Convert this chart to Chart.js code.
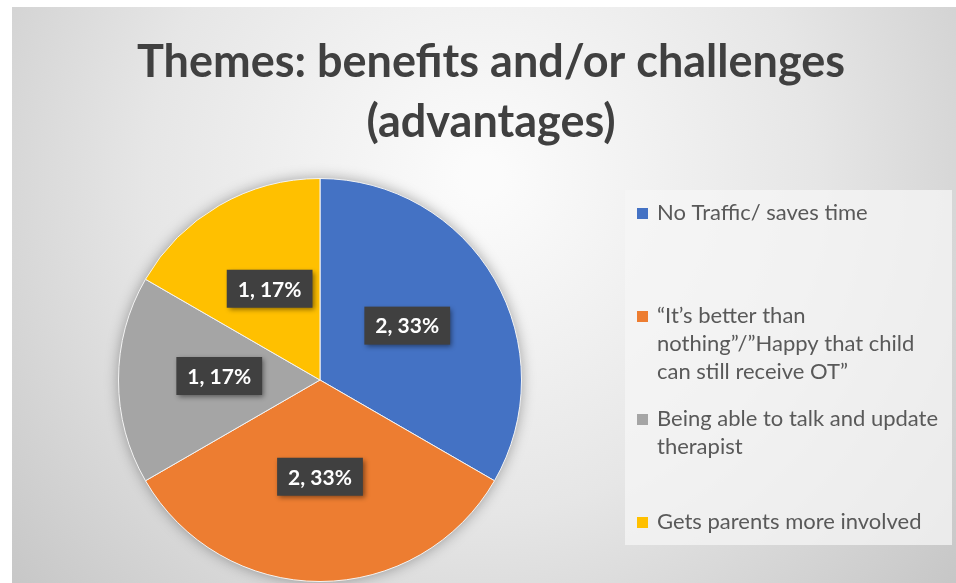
<!DOCTYPE html>
<html>
<head>
<meta charset="utf-8">
<script src="https://cdn.jsdelivr.net/npm/chart.js@4.4.0/dist/chart.umd.min.js"></script>
<style>
  html, body { margin: 0; padding: 0; background: #fff; }
  #wrap { position: absolute; left: 12px; top: 7px; width: 944px; height: 576px; }
</style>
</head>
<body>
<div id="wrap"><canvas id="themes-chart"></canvas></div>
<script>
// ==================== DATA ====================
const titleLines = ['Themes: benefits and/or challenges', '(advantages)'];
const categories = [
  ['No Traffic/ saves time'],
  ['\u201CIt\u2019s better than', 'nothing\u201D/\u201DHappy that child', 'can still receive OT\u201D'],
  ['Being able to talk and update', 'therapist'],
  ['Gets parents more involved']
];
const counts = [2, 2, 1, 1];
const sliceColors = ['#4472C4', '#ED7D31', '#A5A5A5', '#FFC000'];

const FONT = 'Lato, "Open Sans", sans-serif';

// ==================== PLUGINS ====================
// grey radial backdrop behind everything
const backdrop = {
  id: 'backdrop',
  beforeDraw(chart) {
    const { ctx, width, height } = chart;
    const g = ctx.createRadialGradient(470, 170, 20, 470, 170, 720);
    g.addColorStop(0, '#fbfbfb');
    g.addColorStop(0.45, '#e6e6e6');
    g.addColorStop(1, '#bcbcbc');
    ctx.save();
    ctx.fillStyle = g;
    ctx.fillRect(0, 0, width, height);
    ctx.restore();
  }
};

// two-line heading centred across the whole canvas
const heading = {
  id: 'heading',
  beforeDatasetsDraw(chart) {
    const { ctx, width } = chart;
    ctx.save();
    ctx.font = `bold 45px ${FONT}`;
    ctx.fillStyle = '#404040';
    ctx.textAlign = 'center';
    ctx.textBaseline = 'middle';
    titleLines.forEach((line, i) => ctx.fillText(line, width / 2 + 7, 55 + i * 60));
    ctx.restore();
  }
};

// soft halo under the pie
const pieShadow = {
  id: 'pieShadow',
  beforeDatasetsDraw(chart) {
    const arc = chart.getDatasetMeta(0).data[0];
    if (!arc) return;
    const { x, y, outerRadius } = arc.getProps(['x', 'y', 'outerRadius'], true);
    const { ctx } = chart;
    ctx.save();
    ctx.shadowColor = 'rgba(0,0,0,0.35)';
    ctx.shadowBlur = 14;
    ctx.fillStyle = '#cccccc';
    ctx.beginPath();
    ctx.arc(x, y, outerRadius, 0, Math.PI * 2);
    ctx.fill();
    ctx.restore();
  }
};

// dark callout boxes: "value, pct%"
const sliceLabels = {
  id: 'sliceLabels',
  afterDatasetsDraw(chart) {
    const { ctx } = chart;
    const data = chart.data.datasets[0].data;
    const total = data.reduce((s, v) => s + v, 0);
    ctx.save();
    ctx.font = `bold 21px ${FONT}`;
    ctx.textAlign = 'center';
    ctx.textBaseline = 'middle';
    chart.getDatasetMeta(0).data.forEach((arc, i) => {
      const pos = arc.tooltipPosition();
      const text = `${data[i]}, ${Math.round(data[i] / total * 100)}%`;
      const w = ctx.measureText(text).width + 22;
      const h = 38;
      ctx.shadowColor = 'rgba(0,0,0,0.45)';
      ctx.shadowBlur = 5;
      ctx.shadowOffsetX = 2;
      ctx.shadowOffsetY = 2;
      ctx.fillStyle = '#404040';
      ctx.fillRect(pos.x - w / 2, pos.y - h / 2 - 4, w, h);
      ctx.shadowColor = 'transparent';
      ctx.fillStyle = '#ffffff';
      ctx.fillText(text, pos.x, pos.y - 3);
    });
    ctx.restore();
  }
};

// legend panel on the right, entries spread down the box
const sideLegend = {
  id: 'sideLegend',
  afterDraw(chart) {
    const { ctx } = chart;
    const colors = chart.data.datasets[0].backgroundColor;
    const box = { x: 613, y: 183, w: 327, h: 355 };
    ctx.save();
    ctx.fillStyle = 'rgba(245,245,245,0.75)';
    ctx.fillRect(box.x, box.y, box.w, box.h);
    ctx.font = `22px ${FONT}`;
    ctx.textBaseline = 'middle';
    chart.data.labels.forEach((lines, i) => {
      const top = 206 + i * 103;
      ctx.fillStyle = colors[i];
      ctx.fillRect(625, top - 5, 11, 11);
      ctx.fillStyle = '#595959';
      lines.forEach((line, j) => ctx.fillText(line, 645, top + j * 28));
    });
    ctx.restore();
  }
};

// ==================== CHART ====================
new Chart(document.getElementById('themes-chart'), {
  type: 'pie',
  data: {
    labels: categories,
    datasets: [{
      data: counts,
      backgroundColor: sliceColors,
      borderColor: '#f4f4f4',
      borderWidth: 1
    }]
  },
  options: {
    responsive: true,
    maintainAspectRatio: false,
    animation: false,
    layout: { padding: { left: 106, right: 434, top: 171, bottom: 1 } },
    plugins: {
      legend: { display: false },
      title: { display: false },
      tooltip: { enabled: false }
    }
  },
  plugins: [backdrop, heading, pieShadow, sliceLabels, sideLegend]
});
</script>
</body>
</html>
